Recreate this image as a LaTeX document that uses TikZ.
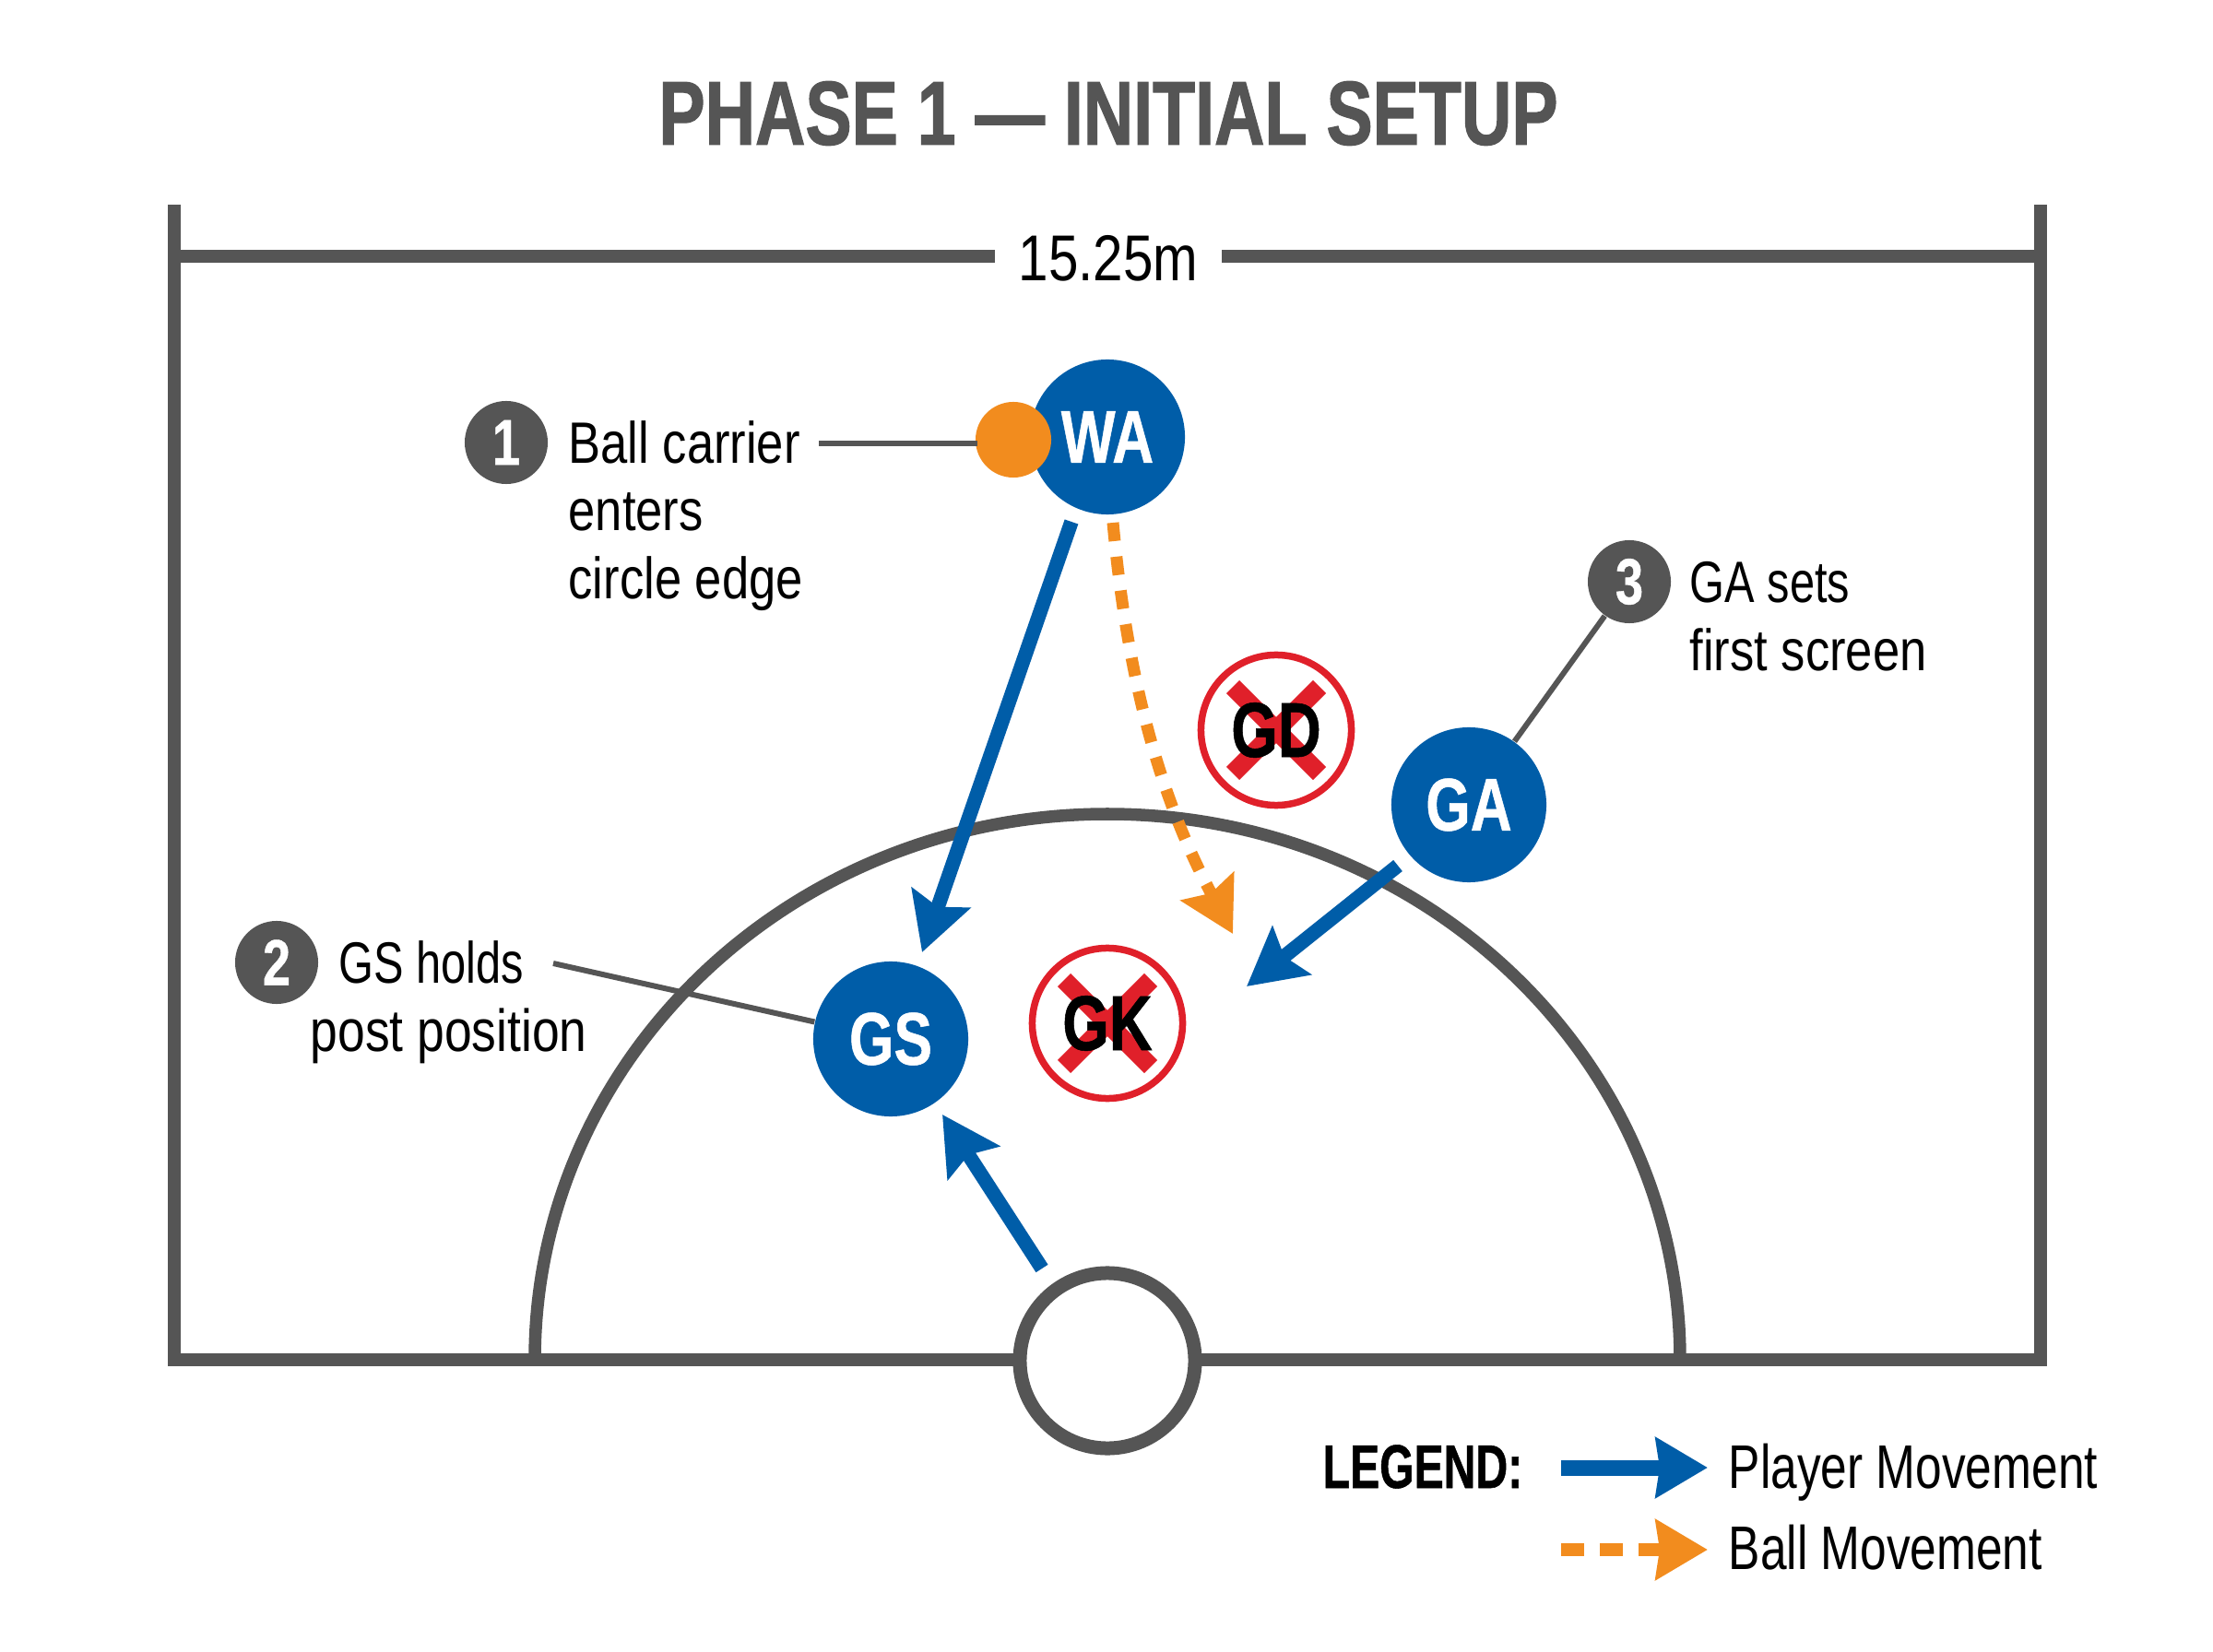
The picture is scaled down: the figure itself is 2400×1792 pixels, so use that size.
\documentclass[tikz,border=0pt]{standalone}
\usepackage{fontspec}
\usetikzlibrary{arrows.meta}
\setmainfont{Liberation Sans}
\newfontfamily\nr[FakeStretch=0.83]{Liberation Sans}
\newfontfamily\nrn[FakeStretch=0.77]{Liberation Sans}
\newfontfamily\nb[FakeStretch=0.77,FakeBold=0.6]{Liberation Sans}
\newfontfamily\nt[FakeStretch=0.765,FakeBold=1.2]{Liberation Sans}
\newfontfamily\nl[FakeStretch=0.72,FakeBold=0.8]{Liberation Sans}
\definecolor{court}{HTML}{555555}
\definecolor{pblue}{HTML}{005DA8}
\definecolor{porange}{HTML}{F28C1E}
\definecolor{dred}{HTML}{E0202A}
\tikzset{
  courtline/.style={draw=court,line width=0.135cm},
  player/.style={circle,fill=pblue,text=white,minimum size=1.68cm,inner sep=0pt,font=\nb\bfseries\fontsize{23}{23}\selectfont},
  defender/.style={circle,draw=dred,fill=white,line width=0.075cm,minimum size=1.63cm,inner sep=0pt},
  xmark/.style={draw=dred,line width=0.2cm},
  deflabel/.style={inner sep=0pt,text=black,font=\nb\bfseries\fontsize{24}{24}\selectfont},
  badge/.style={circle,fill=court,text=white,minimum size=0.9cm,inner sep=0pt,font=\nb\bfseries\fontsize{20}{20}\selectfont},
  leader/.style={draw=court,line width=0.06cm},
  note/.style={anchor=base west,inner sep=0pt,text=black,font=\nr\fontsize{18}{18}\selectfont},
  notenarrow/.style={note,font=\nrn\fontsize{18}{18}\selectfont},
  moveplayer/.style={draw=pblue,line width=0.155cm,-{Stealth[length=0.62cm,width=0.66cm,inset=0.1cm]}},
  moveball/.style={draw=porange,line width=0.13cm,dash pattern=on 0.2cm off 0.17cm,-{Stealth[length=0.58cm,width=0.64cm,inset=0.08cm]}},
}
\begin{document}
\begin{tikzpicture}[x=0.01cm,y=-0.01cm]
\useasboundingbox (0,0) rectangle (2400,1792);
\fill[white] (0,0) rectangle (2400,1792);
% title
\node[inner sep=0pt,text=court,font=\nt\bfseries\fontsize{28}{28}\selectfont] (title) at (1202,123) {PHASE 1 — INITIAL SETUP};
% court
\draw[courtline,line join=miter] (189,222) -- (189,1475) -- (2213,1475) -- (2213,222);
\draw[courtline] (189,278) -- (1079,278);
\draw[courtline] (1325,278) -- (2213,278);
\node[inner sep=0pt,text=black,font=\nr\fontsize{20}{20}\selectfont] (width) at (1202,280) {15.25m};
\draw[courtline] (580,1475) arc[start angle=180,end angle=360,x radius=621,y radius=592];
\node[circle,draw=court,fill=white,line width=0.15cm,minimum size=1.9cm,inner sep=0pt] (post) at (1201,1476) {};
% nodes
\node[player] (WA) at (1201,474) {WA};
\node[player] (GA) at (1593,873) {GA};
\node[player] (GS) at (966,1127) {GS};
\node[defender] (GD) at (1384,792) {};
\node[defender] (GK) at (1201,1110) {};
\draw[xmark] ([shift={(-47,-47)}]GD.center) -- ([shift={(47,47)}]GD.center);
\draw[xmark] ([shift={(-47,47)}]GD.center) -- ([shift={(47,-47)}]GD.center);
\draw[xmark] ([shift={(-47,-47)}]GK.center) -- ([shift={(47,47)}]GK.center);
\draw[xmark] ([shift={(-47,47)}]GK.center) -- ([shift={(47,-47)}]GK.center);
\node[deflabel] (GDt) at (GD.center) {GD};
\node[deflabel] (GKt) at (GK.center) {GK};
% badges and notes
\node[badge] (b1) at (549,480) {1};
\node[badge] (b2) at (300,1044) {2};
\node[badge] (b3) at (1767,631) {3};
\node[note] (n1a) at (616,503) {Ball carrier};
\node[note] (n1b) at (616,576) {enters};
\node[note] (n1c) at (616,650) {circle edge};
\node[notenarrow] (n2a) at (367,1066) {GS holds};
\node[note,font=\nr\fontsize{18.3}{18.3}\selectfont] (n2b) at (336,1140) {post position};
\node[notenarrow] (n3a) at (1832,654) {GA sets};
\node[note] (n3b) at (1832,728) {first screen};
% leaders
\node[circle,fill=porange,minimum size=0.82cm,inner sep=0pt] (ball) at (1099,477) {};
\coordinate (l1) at (888,481);
\coordinate (l1e) at (1060,481);
\draw[leader] (l1) -- (l1e);
\coordinate (l2) at (600,1045);
\draw[leader] (l2) -- (GS);
\draw[leader] (b3) -- (GA);
% moves
\coordinate (m1s) at (1162,566);
\coordinate (m1e) at (1000,1033);
\draw[moveplayer] (m1s) -- (m1e);
\coordinate (m2s) at (1516,939);
\coordinate (m2e) at (1352,1070);
\draw[moveplayer] (m2s) -- (m2e);
\coordinate (m3s) at (1130,1376);
\coordinate (m3e) at (1022,1209);
\draw[moveplayer] (m3s) -- (m3e);
\coordinate (m4s) at (1207,567);
\coordinate (m4e) at (1337,1013);
\draw[moveball] (m4s) .. controls (1222,730) and (1255,860) .. (m4e);
% legend
\node[anchor=base west,inner sep=0pt,text=black,font=\nl\bfseries\fontsize{19}{19}\selectfont] (leg) at (1434,1614) {LEGEND:};
\coordinate (p1) at (1693,1592);
\coordinate (p2) at (1852,1592);
\draw[moveplayer,line width=0.17cm,-{Stealth[length=0.56cm,width=0.64cm,inset=0.04cm]}] (p1) -- (p2);
\coordinate (q1) at (1693,1681);
\coordinate (q2) at (1852,1681);
\draw[moveball,line width=0.145cm,dash pattern=on 0.25cm off 0.17cm,-{Stealth[length=0.56cm,width=0.64cm,inset=0.04cm]}] (q1) -- (q2);
\node[note,font=\nrn\fontsize{19}{19}\selectfont] (lp) at (1874,1614) {Player Movement};
\node[note,font=\nrn\fontsize{19}{19}\selectfont] (lb) at (1874,1702) {Ball Movement};
\end{tikzpicture}
\end{document}
